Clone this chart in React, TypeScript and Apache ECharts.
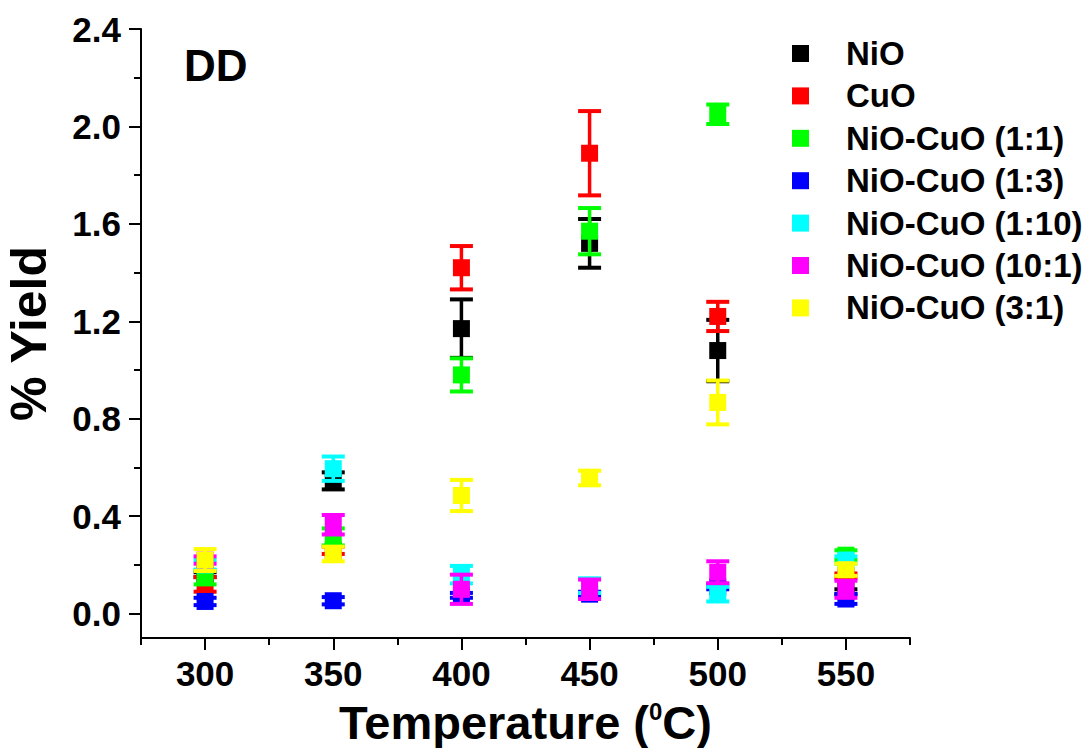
import React, { useEffect, useRef } from "react";
import * as echarts from "echarts";

const temperatures = [300, 350, 400, 450, 500, 550];
const seriesNames = [
  "NiO",
  "CuO",
  "NiO-CuO (1:1)",
  "NiO-CuO (1:3)",
  "NiO-CuO (1:10)",
  "NiO-CuO (10:1)",
  "NiO-CuO (3:1)",
];
const seriesColors = ["#000000", "#ff0000", "#00ff00", "#0000ff", "#00ffff", "#ff00ff", "#ffff00"];

const nioY = [0.16, 0.545, 1.17, 1.52, 1.08, 0.09];
const nioErr = [0.01, 0.035, 0.12, 0.1, 0.126, 0.01];
const cuoY = [0.12, 0.26, 1.42, 1.89, 1.22, 0.155];
const cuoErr = [0.03, 0.015, 0.089, 0.173, 0.06, 0.01];
const r11Y = [0.15, 0.315, 0.98, 1.57, 2.05, 0.24];
const r11Err = [0.03, 0.035, 0.068, 0.095, 0.04, 0.02];
const r13Y = [0.05, 0.053, 0.075, 0.08, 0.11, 0.06];
const r13Err = [0.015, 0.015, 0.01, 0.01, 0.01, 0.02];
const r110Y = [0.2, 0.595, 0.16, 0.115, 0.08, 0.22];
const r110Err = [0.02, 0.05, 0.036, 0.03, 0.03, 0.015];
const r101Y = [0.22, 0.365, 0.1, 0.1, 0.17, 0.1];
const r101Err = [0.015, 0.04, 0.06, 0.04, 0.045, 0.035];
const r31Y = [0.22, 0.245, 0.485, 0.557, 0.867, 0.18];
const r31Err = [0.045, 0.03, 0.064, 0.03, 0.09, 0.025];

const allY = [nioY, cuoY, r11Y, r13Y, r110Y, r101Y, r31Y];
const allErr = [nioErr, cuoErr, r11Err, r13Err, r110Err, r101Err, r31Err];

const yMajorTicks = [0, 0.4, 0.8, 1.2, 1.6, 2.0, 2.4];
const yMinorTicks = [0.2, 0.6, 1.0, 1.4, 1.8, 2.2];
const xMajorTicks = [300, 350, 400, 450, 500, 550];
const xMinorTicks = [275, 325, 375, 425, 475, 525, 575];

const FONT = "'Liberation Sans', Arial, Helvetica, sans-serif";

export default function App() {
  const ref = useRef<HTMLDivElement>(null);
  useEffect(() => {
    if (!ref.current) return;
    const chart = echarts.init(ref.current, null, { renderer: "svg" });
    const series: any[] = [];
    seriesNames.forEach((name, i) => {
      const color = seriesColors[i];
      series.push({
        name: name + " error",
        type: "custom",
        xAxisIndex: 0,
        yAxisIndex: 0,
        z: 2 + i * 2,
        data: temperatures.map((t, j) => [t, allY[i][j], allErr[i][j]]),
        encode: { x: 0, y: 1 },
        renderItem: (params: any, api: any) => {
          const x = api.value(0);
          const y = api.value(1);
          const e = api.value(2);
          const top = api.coord([x, y + e]);
          const bot = api.coord([x, y - e]);
          const hw = 11.5;
          const st = { stroke: color, lineWidth: 3.5 };
          const cap = { stroke: color, lineWidth: 4 };
          return {
            type: "group",
            children: [
              { type: "line", shape: { x1: top[0], y1: top[1], x2: bot[0], y2: bot[1] }, style: st },
              { type: "line", shape: { x1: top[0] - hw, y1: top[1], x2: top[0] + hw, y2: top[1] }, style: cap },
              { type: "line", shape: { x1: bot[0] - hw, y1: bot[1], x2: bot[0] + hw, y2: bot[1] }, style: cap },
            ],
          };
        },
      });
      series.push({
        name,
        type: "scatter",
        xAxisIndex: 0,
        yAxisIndex: 0,
        z: 3 + i * 2,
        symbol: "rect",
        symbolSize: 17,
        itemStyle: { color, opacity: 1 },
        data: temperatures.map((t, j) => [t, allY[i][j]]),
      });
    });

    const axisLineStyle = { color: "#000", width: 2 };
    chart.setOption({
      animation: false,
      grid: {
        left: 141,
        right: 180,
        top: 29,
        bottom: 110,
        containLabel: false,
        outerBoundsMode: "none",
      },
      legend: {
        data: seriesNames.map((n) => ({ name: n, icon: "rect" })),
        orient: "vertical",
        left: 787,
        top: 32,
        itemWidth: 17,
        itemHeight: 17,
        itemGap: 9.4,
        selectedMode: false,
        textStyle: {
          fontFamily: FONT,
          fontSize: 33,
          fontWeight: "bold",
          color: "#000",
          padding: [0, 0, 0, 32],
        },
      },
      graphic: [
        {
          type: "text",
          left: 184,
          top: 43,
          style: { text: "DD", font: `bold 44px ${FONT}`, fill: "#000" },
        },
      ],
      xAxis: [
        {
          type: "value",
          min: 275,
          max: 575,
          position: "bottom",
          axisLine: { show: true, onZero: false, lineStyle: axisLineStyle },
          axisTick: { show: true, length: 12, customValues: xMajorTicks, lineStyle: { color: "#000", width: 2 } },
          axisLabel: {
            customValues: xMajorTicks,
            margin: 18,
            fontFamily: FONT,
            fontSize: 35,
            fontWeight: "bold",
            color: "#000",
          },
          splitLine: { show: false },
          name: "{a|Temperature (}{s|0}{a|C)}",
          nameLocation: "middle",
          nameGap: 61,
          nameTextStyle: {
            rich: {
              a: {
                fontFamily: FONT,
                fontSize: 47,
                fontWeight: "bold",
                color: "#000",
                lineHeight: 46,
              },
              s: {
                fontFamily: FONT,
                fontSize: 24,
                fontWeight: "bold",
                color: "#000",
                verticalAlign: "top",
                lineHeight: 16,
              },
            },
          },
        },
        {
          type: "value",
          min: 275,
          max: 575,
          position: "bottom",
          axisLine: { show: false, onZero: false },
          axisTick: { show: true, length: 7, customValues: xMinorTicks, lineStyle: { color: "#000", width: 2 } },
          axisLabel: { show: false },
          splitLine: { show: false },
        },
      ],
      yAxis: [
        {
          type: "value",
          min: -0.1,
          max: 2.4,
          position: "left",
          axisLine: { show: true, onZero: false, lineStyle: axisLineStyle },
          axisTick: { show: true, length: 12, customValues: yMajorTicks, lineStyle: { color: "#000", width: 2 } },
          axisLabel: {
            customValues: yMajorTicks,
            formatter: (v: number) => v.toFixed(1),
            margin: 20,
            fontFamily: FONT,
            fontSize: 35,
            fontWeight: "bold",
            color: "#000",
          },
          splitLine: { show: false },
          name: "% Yield",
          nameLocation: "middle",
          nameGap: 87,
          nameTextStyle: { fontFamily: FONT, fontSize: 50, fontWeight: "bold", color: "#000" },
        },
        {
          type: "value",
          min: -0.1,
          max: 2.4,
          position: "left",
          axisLine: { show: false, onZero: false },
          axisTick: { show: true, length: 7, customValues: yMinorTicks, lineStyle: { color: "#000", width: 2 } },
          axisLabel: { show: false },
          splitLine: { show: false },
        },
      ],
      series,
    });
    return () => chart.dispose();
  }, []);
  return (
    <div
      ref={ref}
      style={{ position: "fixed", left: 0, top: 0, width: 1090, height: 748, background: "#fff" }}
    />
  );
}
